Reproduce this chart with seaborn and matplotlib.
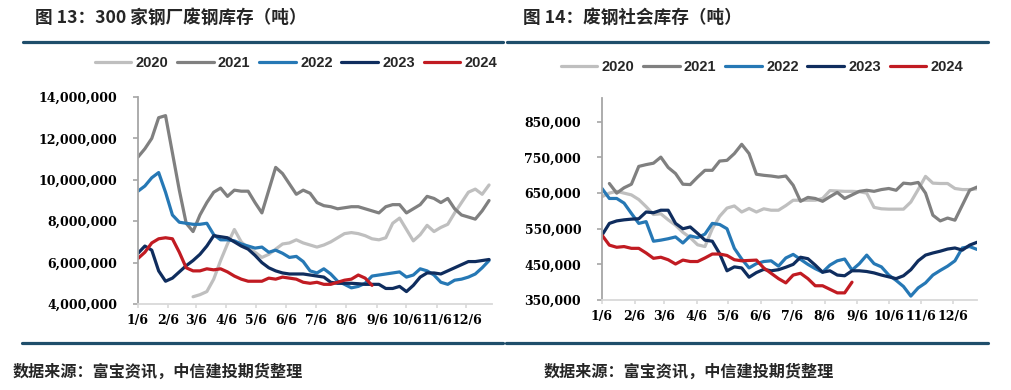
"""
废钢库存对比图 - 300家钢厂废钢库存 / 废钢社会库存
按年份(2020-2024)周度数据叠加
"""
import pandas as pd
import matplotlib
matplotlib.use('Agg')
import matplotlib.pyplot as plt
from matplotlib.lines import Line2D
from matplotlib.ticker import FuncFormatter
from matplotlib.font_manager import FontProperties
import seaborn as sns

years = ['2020', '2021', '2022', '2023', '2024']
colors = ['#BFBFBF', '#808080', '#2678B5', '#0F2D5E', '#C11B22']

# 每月6日对应的年内天数
month_days = [6, 37, 65, 96, 126, 157, 187, 218, 249, 279, 310, 340]
month_labels = ['1/6', '2/6', '3/6', '4/6', '5/6', '6/6',
                '7/6', '8/6', '9/6', '10/6', '11/6', '12/6']

# 图13: 300家钢厂废钢库存 (百万吨), 周度, 第一周为1/6
mill_start = {'2020': 8, '2021': 0, '2022': 0, '2023': 0, '2024': 0}
mill_2020 = [4.35, 4.45, 4.6, 5.2, 6.1, 6.9, 7.6, 7.0, 6.7, 6.5, 6.25, 6.4, 6.65, 6.9, 6.95,
             7.1, 6.95, 6.85, 6.75, 6.85, 7.0, 7.2, 7.4, 7.45, 7.4, 7.3, 7.15, 7.1, 7.2, 7.9,
             8.15, 7.6, 7.05, 7.35, 7.8, 7.5, 7.7, 7.85, 8.4, 8.9, 9.4, 9.55, 9.3, 9.75]
mill_2021 = [11.1, 11.5, 12.0, 13.0, 13.1, 11.3, 9.5, 7.9, 7.5, 8.3, 8.9, 9.4, 9.6, 9.2, 9.5,
             9.45, 9.45, 8.9, 8.4, 9.5, 10.6, 10.3, 9.8, 9.3, 9.5, 9.35, 8.9, 8.75, 8.7, 8.6,
             8.65, 8.7, 8.7, 8.6, 8.5, 8.4, 8.7, 8.8, 8.8, 8.4, 8.6, 8.8, 9.2, 9.1, 8.9, 9.1,
             8.6, 8.3, 8.2, 8.1, 8.5, 9.0]
mill_2022 = [9.45, 9.7, 10.1, 10.35, 9.4, 8.3, 7.95, 7.9, 7.85, 7.85, 7.9, 7.35, 7.1, 7.1, 7.05,
             6.9, 6.8, 6.7, 6.75, 6.5, 6.6, 6.45, 6.25, 6.3, 6.05, 5.6, 5.5, 5.7, 5.45, 5.1,
             4.95, 4.78, 4.85, 5.0, 5.35, 5.4, 5.45, 5.5, 5.55, 5.3, 5.4, 5.7, 5.6, 5.4, 5.05,
             4.95, 5.15, 5.2, 5.3, 5.45, 5.75, 6.1]
mill_2023 = [6.45, 6.8, 6.6, 5.6, 5.1, 5.25, 5.55, 5.85, 6.1, 6.4, 6.8, 7.3, 7.25, 7.2, 7.0,
             6.8, 6.65, 6.35, 6.0, 5.75, 5.6, 5.5, 5.45, 5.45, 5.45, 5.4, 5.35, 5.3, 5.05, 5.0,
             5.0, 5.0, 4.98, 4.95, 4.95, 4.95, 4.75, 4.75, 4.85, 4.6, 4.9, 5.3, 5.5, 5.5, 5.45,
             5.6, 5.75, 5.9, 6.05, 6.05, 6.1, 6.15]
mill_2024 = [6.2, 6.5, 6.95, 7.15, 7.2, 7.15, 6.5, 5.75, 5.6, 5.6, 5.7, 5.65, 5.7, 5.55, 5.35,
             5.2, 5.1, 5.1, 5.1, 5.25, 5.2, 5.3, 5.25, 5.2, 5.05, 5.0, 5.05, 4.95, 4.95, 5.05,
             5.15, 5.2, 5.4, 5.25, 4.9]

# 图14: 废钢社会库存 (千吨)
social_start = {'2020': 0, '2021': 1, '2022': 0, '2023': 0, '2024': 0}
social_2020 = [640, 650, 655, 650, 645, 632, 612, 590, 592, 575, 560, 540, 525, 505, 500, 550,
               585, 608, 614, 597, 607, 597, 606, 602, 602, 615, 630, 630, 630, 630, 635, 657,
               656, 655, 655, 654, 650, 610, 606, 605, 605, 605, 625, 660, 697, 678, 677, 677,
               663, 660, 660, 662]
social_2021 = [677, 650, 665, 675, 725, 730, 734, 751, 722, 705, 675, 674, 695, 714, 714, 740,
               742, 761, 787, 761, 703, 700, 698, 695, 698, 672, 627, 638, 635, 627, 640, 652,
               635, 645, 655, 658, 655, 660, 663, 658, 678, 676, 680, 650, 588, 572, 580, 574,
               616, 658, 667]
social_2022 = [663, 635, 635, 622, 593, 565, 570, 515, 518, 522, 527, 510, 530, 525, 535, 565,
               562, 550, 495, 465, 440, 452, 458, 460, 445, 468, 478, 464, 450, 438, 428, 448,
               460, 465, 434, 452, 476, 452, 443, 420, 405, 388, 361, 384, 398, 420, 433, 445,
               460, 496, 500, 492]
social_2023 = [532, 565, 572, 575, 577, 578, 597, 595, 602, 602, 565, 550, 555, 537, 518, 515,
               480, 432, 443, 440, 414, 427, 436, 432, 435, 442, 450, 470, 466, 448, 428, 432,
               420, 418, 432, 432, 430, 426, 420, 415, 410, 418, 435, 460, 476, 482, 487, 493,
               496, 490, 504, 512]
social_2024 = [532, 504, 498, 500, 495, 495, 482, 467, 470, 463, 451, 462, 458, 458, 468, 479,
               479, 475, 463, 460, 461, 462, 440, 425, 410, 398, 420, 425, 410, 390, 390, 380,
               370, 370, 400]

FIG_W, FIG_H = 1012, 390
NAVY_RULE = '#1F4E6B'


def to_long(series, starts, scale):
    """把各年份周度序列转成长表"""
    rows = []
    for year, values in series.items():
        for k, v in enumerate(values):
            rows.append({'year': year, 'day': 6 + 7 * (starts[year] + k), 'value': v * scale})
    return pd.DataFrame(rows)


def fx(px):
    return px / FIG_W


def fy(px):
    return 1 - px / FIG_H


def style_axis(ax, xmax, ylim, yticks):
    tick_font = FontProperties(family='DejaVu Serif', weight='bold', size=9)
    ax.set_xlim(6, xmax)
    ax.set_ylim(*ylim)
    ax.set_yticks(yticks)
    ax.set_xticks(month_days)
    ax.set_xticklabels(month_labels)
    ax.yaxis.set_major_formatter(FuncFormatter(lambda v, p: f'{int(round(v)):,}'))
    for lab in ax.get_xticklabels() + ax.get_yticklabels():
        lab.set_fontproperties(tick_font)
    ax.set_xlabel('')
    ax.set_ylabel('')
    ax.spines['top'].set_visible(False)
    ax.spines['right'].set_visible(False)
    ax.spines['left'].set_color('#A6A6A6')
    ax.spines['left'].set_linewidth(1.3)
    ax.spines['bottom'].set_color('#D9D9D9')
    ax.spines['bottom'].set_linewidth(1.3)
    ax.tick_params(axis='y', direction='out', length=3.5, width=1.2, color='#A6A6A6',
                   pad=11.5, labelcolor='black', left=True)
    ax.tick_params(axis='x', direction='out', length=3, width=1.2, color='#D9D9D9',
                   pad=4.5, labelcolor='black', bottom=True)
    ax.grid(False)


def draw_panel(fig, rect, df, xmax, ylim, yticks, legend_xy):
    ax = fig.add_axes(rect)
    sns.lineplot(data=df, x='day', y='value', hue='year', hue_order=years,
                 palette=dict(zip(years, colors)), linewidth=2.3, estimator=None,
                 legend=False, ax=ax)
    style_axis(ax, xmax, ylim, yticks)

    handles = [Line2D([0], [0], color=c, lw=2.3) for c in colors]
    fig.legend(handles, years, loc='center', bbox_to_anchor=legend_xy, ncol=5,
               frameon=False, handlelength=2.5, handletextpad=0.3, columnspacing=0.6,
               prop=FontProperties(family='Liberation Sans', weight='bold', size=10.5))
    return ax


def main():
    sns.set_style('white')
    plt.rcParams['font.family'] = ['Noto Sans CJK SC', 'DejaVu Sans']

    fig = plt.figure(figsize=(FIG_W / 100, FIG_H / 100), dpi=100)

    mill_df = to_long({'2020': mill_2020, '2021': mill_2021, '2022': mill_2022,
                       '2023': mill_2023, '2024': mill_2024}, mill_start, 1e6)
    social_df = to_long({'2020': social_2020, '2021': social_2021, '2022': social_2022,
                         '2023': social_2023, '2024': social_2024}, social_start, 1e3)

    # 左图
    draw_panel(fig, [fx(138), 1 - 304 / FIG_H, fx(492 - 138), 207 / FIG_H], mill_df,
               366, (4e6, 14e6), [4e6, 6e6, 8e6, 10e6, 12e6, 14e6],
               (fx(296), fy(63)))
    # 右图
    draw_panel(fig, [fx(602), 1 - 300 / FIG_H, fx(977 - 602), 202 / FIG_H], social_df,
               363, (350000, 917000), [350000, 450000, 550000, 650000, 750000, 850000],
               (fx(762), fy(67)))

    # 标题与分隔线
    title_kw = dict(fontsize=12.7, fontweight='bold', va='center', ha='left')
    fig.text(fx(35), fy(18), '图 13：300 家钢厂废钢库存（吨）', **title_kw)
    fig.text(fx(523), fy(18), '图 14：废钢社会库存（吨）', **title_kw)
    for x0, x1 in [(23, 503), (507, 988)]:
        fig.add_artist(Line2D([fx(x0), fx(x1)], [fy(41.5)] * 2, color=NAVY_RULE, lw=2.3))
        fig.add_artist(Line2D([fx(x0 - 1), fx(x1)], [fy(343)] * 2, color=NAVY_RULE, lw=2.3))

    # 数据来源
    src_kw = dict(fontsize=11.6, fontweight='bold', fontstyle='italic', va='center', ha='left')
    fig.text(fx(13), fy(372), '数据来源：富宝资讯，中信建投期货整理', **src_kw)
    fig.text(fx(544), fy(372), '数据来源：富宝资讯，中信建投期货整理', **src_kw)

    fig.savefig('out.png', dpi=100)


if __name__ == "__main__":
    main()
